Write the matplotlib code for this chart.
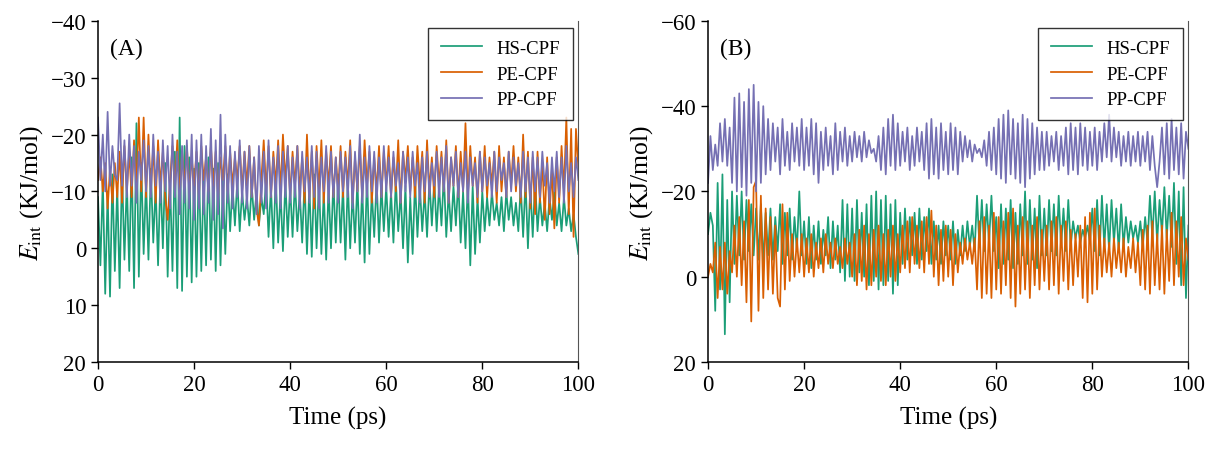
import numpy as np
import matplotlib
matplotlib.use("Agg")
import matplotlib.pyplot as plt

plt.rcParams['font.family'] = ['Liberation Serif', 'DejaVu Serif']
plt.rcParams['mathtext.fontset'] = 'stix'

# time grid (ps), one sample every 0.5 ps
time_step = 0.5
time = np.arange(0, 100 + time_step / 2, time_step)

series_names = ['HS-CPF', 'PE-CPF', 'PP-CPF']
colors = ['#1b9e77', '#d95f02', '#7570b3']

# Panel A: interaction energy (KJ/mol)
hs_a = [
    -9, 3, -12, 8, -10, 8.5, -13, 4, -11, 7, -14, 2, -12, 4, -16, 7, -22, 5, -15, 1,
    -12, 2, -14, -1, -11, 3, -13, 0, -15, 5, -12, 4, -17, 7, -23, 7.5, -18, 5, -16, 6,
    -14, 5, -15, 4, -13, 3, -16, 2, -14, 4, -15, 3, -12, 1, -13, -3, -11, -4, -12, -3,
    -10, -5, -9, -4, -11, -5, -10, -4, -9, -6, -12, -2, -11, 0, -13, -1, -10, 0.5, -12, -2,
    -11, -2, -12, -3, -10, -1, -12, 1, -11, 1.5, -13, 0, -12, 1, -10, 2, -11, 0, -12, -1,
    -13, -1, -11, 2, -12, 0, -10, -1, -12, 1, -11, 2.5, -13, 1, -10, -2, -12, -1, -11, -3,
    -11, -2, -10, -1, -12, -3, -10, 0, -11, 2.5, -9, 1, -12, -2, -11, -3, -10, -2, -12, -4,
    -12, -3, -11, -4, -13, -2, -10, -3, -11, -4, -12, -1, -10, 0, -12, 3, -11, 1, -9, -1,
    -10, -3, -9, -4, -10, -5, -8, -4, -9, -3, -10, -5, -9, -4, -8, -3, -11, -2, -12, 0,
    -11, -2, -12, -3, -9, -4, -8, -3, -9, -5, -10, -4, -8, -3, -9, -4, -7, -3, -6, -2,
    1,
]
pe_a = [
    -12, -16, -10, -15, -7, -14, -8, -15, -9, -17, -8, -18, -10, -17, -9, -19, -11, -23, -10, -23,
    -9, -20, -10, -18, -8, -19, -11, -17, -9, -5, -12, -18, -10, -19, -9, -17, -11, -18, -10, -16,
    -11, -17, -9, -18, -12, -16, -10, -18, -11, -17, -9, -16, -12, -18, -10, -17, -11, -16, -12, -18,
    -10, -17, -11, -18, -9, -16, -7, -4, -12, -19, -10, -18, -9, -17, -11, -19, -10, -20, -12, -18,
    -9, -17, -11, -18, -10, -16, -8, -20, -9, -17, -7, -18, -10, -19, -8, -17, -11, -18, -9, -16,
    -10, -18, -9, -17, -11, -19, -8, -16, -10, -18, -9, -19, -11, -17, -8, -16, -10, -18, -9, -17,
    -11, -18, -9, -16, -10, -19, -8, -17, -12, -18, -10, -16, -9, -18, -11, -17, -8, -19, -10, -16,
    -9, -18, -11, -17, -10, -19, -8, -16, -11, -18, -9, -17, -10, -22, -9, -18, -11, -16, -8, -17,
    -10, -18, -9, -16, -11, -17, -8, -18, -10, -16, -9, -17, -11, -18, -10, -16, -8, -20, -9, -17,
    -7, -16, -6, -17, -8, -15, -5, -16, -6, -14, -3.5, -16, -8, -18, -10, -23, -6, -21, -2, -21,
    -14,
]
pp_a = [
    -23, -12, -20, -10, -24, -11, -18, -13, -12, -25.5, -11, -19, -9, -20, -11, -18, -8, -17, -12, -19,
    -10, -18, -9, -20, -11, -17, -8, -19, -10, -18, -7, -20, -9, -17, -6, -18, -8, -19, -7, -20,
    -5, -19, -7, -20, -6, -18, -8, -21, -5, -19, -6, -23.5, -3.5, -20, -8, -18, -7, -17, -9, -19,
    -8, -17, -7, -18, -9, -16, -6, -18, -8, -17, -7, -19, -9, -16, -8, -18, -7, -17, -9, -18,
    -8, -16, -9, -18, -7, -17, -10, -16, -8, -18, -9, -17, -7, -16, -10, -18, -8, -17, -9, -16,
    -8, -17, -10, -16, -9, -18, -7, -17, -10, -20, -8, -16, -9, -18, -10, -17, -8, -16, -9, -18,
    -10, -16, -9, -17, -11, -15, -8, -17, -10, -16, -9, -17, -11, -15, -8, -16, -10, -17, -9, -15,
    -11, -17, -9, -16, -10, -18, -8, -16, -11, -17, -9, -15, -10, -17, -8, -16, -11, -15, -9, -17,
    -10, -16, -11, -15, -9, -17, -10, -16, -12, -15, -9, -17, -10, -16, -11, -15, -9, -17, -10, -16,
    -8, -17, -10, -16, -9, -17, -11, -15, -8, -16, -10, -17, -9, -16, -8, -18, -10, -15, -9, -16,
    -12,
]

# Panel B
hs_b = [
    -10, -15, -12, 8, -22, 3, -24, 13.5, -18, 6, -20, -3, -19, -5, -20, -4, -18, -6, -17, -5,
    -16, -4, -17, -3, -15, -5, -16, -4, -14, -6, -17, -3, -15, -5, -16, -4, -14, -6, -20, -5,
    -13, -3, -14, -2, -12, -4, -13, -3, -11, -5, -14, -2, -13, -4, -12, -1, -18, 1, -17, 0,
    -16, 1, -18, -1, -15, 0, -17, 2, -19, 1, -20, 3, -18, 2, -19, 1, -17, 4, -18, 2,
    -15, -3, -16, -4, -14, -5, -15, -3, -16, -4, -14, -6, -16, -3, -13, -4, -12, -3, -13, -5,
    -12, -4, -13, -3, -11, -5, -12, -6, -13, -7, -12, -6, -19, -7, -18, -6, -17, -8, -19, -6,
    -14, -2, -17, -3, -16, -4, -18, -2, -15, -3, -17, -5, -20, -3, -18, -4, -16, -2, -19, -5,
    -16, -5, -18, -6, -17, -5, -19, -7, -16, -6, -18, -7, -13, -9, -12, -8, -11, -9, -12, -8,
    -16, -6, -18, -5, -19, -7, -17, -6, -18, -8, -16, -6, -17, -7, -14, -8, -13, -9, -12, -8,
    -13, -7, -14, -8, -19, -9, -20, -8, -18, -10, -21, -9, -19, -7, -22, -3, -20, 2, -21, 5,
    -12,
]
pe_b = [
    0, -3, -1, -8, 5, -7, 3, -8, 4, -6, -1, -12, 0, -14, 2, -13, 6, -18, 10.5, -21,
    -22.5, 8, -19, 5, -16, 3, -14, 4, -12, 5, 7, -17, 3, -15, 1, -10, 0, -9, -1, -10,
    0, -9, -1, -10, 0, -8, -2, -9, -1, -10, -3, -8, -2, -9, -3, -7, -2, -9, -3, -8,
    0, -10, 2, -11, 1, -12, 3, -10, 2, -11, 0, -12, 1, -10, 2, -11, 0, -12, 1, -10,
    -1, -12, -2, -13, -1, -14, -3, -12, -2, -13, -1, -14, -3, -15.5, 0, -12, 2, -11, 1, -12,
    0, -11, 2, -10, -1, -8, -3, -9, -4, -8, -3, -9, 3, -13, 5, -14, 4, -12, 5, -15,
    3, -14, 4, -13, 2, -15, 5, -16, 7, -12, 4, -14, 3, -13, 5, -12, 2, -14, 3, -11,
    1, -12, 3, -13, 2, -14, 4, -12, 1, -13, 3, -11, 2, -10, 0, -12, 5, -14, 6, -15,
    4, -16, 3, -12, 0, -9, -1, -8, 0, -9, -2, -8, -1, -9, 0, -7, -2, -9, -1, -8,
    2, -11, 3, -12, 4, -13, 2, -10, 3, -12, 4, -11, 1, -15, 2, -13, 0, -14, 2, -9,
    -4,
]
pp_b = [
    -22, -33, -25, -31, -26, -36, -27, -37, -26, -35, -22, -42, -20, -43, -21, -41, -19, -44, -22, -45,
    -20, -41, -22, -40, -24, -37, -25, -36, -27, -35, -24, -37, -26, -34, -25, -36, -27, -35, -26, -37,
    -25, -35, -26, -37, -24, -36, -22, -34, -25, -35, -26, -33, -24, -36, -25, -34, -27, -35, -26, -33,
    -27, -34, -28, -33, -27, -34, -28, -32, -29, -30, -27, -33, -25, -35, -24, -37, -26, -38, -25, -36,
    -26, -34, -27, -35, -25, -33, -26, -35, -27, -34, -25, -36, -23, -37, -24, -35, -23, -36, -25, -34,
    -24, -36, -25, -35, -24, -34, -27, -33, -28, -32, -27, -31, -29, -30, -28, -32, -26, -34, -25, -35,
    -24, -37, -23, -38, -22, -39, -24, -37, -23, -36, -22, -38, -21, -37, -23, -36, -24, -35, -25, -34,
    -25, -34, -26, -33, -27, -34, -25, -33, -26, -35, -24, -36, -25, -35, -24, -36, -26, -35, -25, -34,
    -26, -35, -25, -34, -27, -36, -28, -38, -27, -35, -28, -34, -26, -33, -27, -34, -26, -33, -27, -34,
    -26, -33, -27, -34, -25, -33, -26, -21, -27, -35, -24, -36, -23, -37, -25, -35, -24, -36, -23, -34,
    -30,
]

panels = [
    ('(A)', [hs_a, pe_a, pp_a], (20, -40), [-40, -30, -20, -10, 0, 10, 20]),
    ('(B)', [hs_b, pe_b, pp_b], (20, -60), [-60, -40, -20, 0, 20]),
]

fig = plt.figure(figsize=(12.13, 4.56), dpi=100)
ax_left = [0.0808, 0.5837]

for (label, data, ylim, yticks), left in zip(panels, ax_left):
    ax = fig.add_axes([left, 0.204, 0.396, 0.748])
    for values, name, c in zip(data, series_names, colors):
        ax.plot(time, values, color=c, lw=1.25, label=name)
    ax.set_xlim(0, 100)
    ax.set_ylim(*ylim)
    ax.set_xticks([0, 20, 40, 60, 80, 100])
    ax.set_yticks(yticks)
    ax.tick_params(direction='out', length=5, width=1, labelsize=16.5,
                   top=False, right=False)
    ax.spines['top'].set_visible(False)
    ax.spines['right'].set_color('#555555')
    ax.spines['right'].set_linewidth(0.8)
    for s in ['left', 'bottom']:
        ax.spines[s].set_linewidth(1.1)
    ax.set_xlabel('Time (ps)', fontsize=18, labelpad=8)
    ax.set_ylabel(r'$E_{\mathrm{int}}$ (KJ/mol)', fontsize=18.5, labelpad=4)
    ax.text(0.025, 0.92, label, transform=ax.transAxes, fontsize=17,
            va='center', ha='left')
    leg = ax.legend(loc='upper right', fontsize=13.5, frameon=True, fancybox=False,
                    edgecolor='black', handlelength=2.2, labelspacing=0.45,
                    borderpad=0.65, borderaxespad=0, bbox_to_anchor=(0.988, 0.98))
    leg.get_frame().set_linewidth(1.0)
    for line in leg.get_lines():
        line.set_linewidth(1.25)

fig.savefig('out.png', dpi=100)
